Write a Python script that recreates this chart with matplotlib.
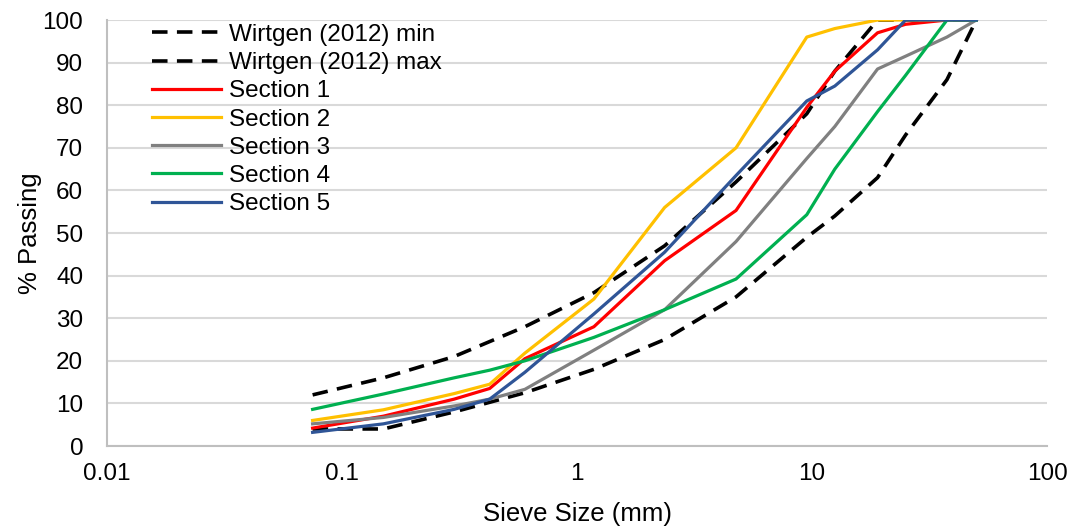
import matplotlib
matplotlib.use("Agg")
import matplotlib.pyplot as plt
import numpy as np

plt.rcParams['font.family'] = ['Liberation Sans', 'DejaVu Sans']

# Sieve sizes (mm)
sieves = [0.075, 0.15, 0.3, 0.425, 0.6, 1.18, 2.36, 4.75, 9.5, 12.5, 19, 25, 37.5, 50]
env_sieves = [0.075, 0.15, 0.3, 0.6, 1.18, 2.36, 4.75, 9.5, 12.5, 19, 25, 37.5, 50]

# Grading envelope (% passing)
wirtgen_min = [12, 16, 21, 28, 36, 47, 62, 78, 88, 100, 100, 100, 100]
wirtgen_max = [4, 4, 8, 12.5, 18, 25, 35, 49, 54, 63, 73, 86, 100]

# Measured gradations (% passing)
section1 = [4.2, 7, 11, 13.5, 20.5, 28, 43.5, 55.3, 79.5, 88, 97, 99, 100, 100]
section2 = [6, 8.5, 12.3, 14.5, 21.8, 34.5, 56, 70, 96, 98, 100, 100, 100, 100]
section3 = [5.2, 6.7, 9.4, 11, 13.3, 22.5, 32, 48, 67.5, 75, 88.5, 91.5, 96, 100]
section4 = [8.6, 12.2, 16, 17.8, 20, 25.5, 32, 39.2, 54.3, 65, 78.5, 87, 100, 100]
section5 = [3.2, 5.2, 8.6, 11, 17.3, 31, 45.5, 63.5, 81, 84.5, 93, 100, 100, 100]

x_ticks = [0.01, 0.1, 1, 10, 100]
x_tick_labels = ["0.01", "0.1", "1", "10", "100"]
y_ticks = list(range(0, 101, 10))

fig = plt.figure(figsize=(10.75, 5.27), dpi=100)
ax = fig.add_axes([0.0995, 0.1537, 0.8745, 0.8083])

dash = dict(color='black', lw=2.6, linestyle=(0, (4.3, 2.6)))
ax.plot(env_sieves, wirtgen_min, label='Wirtgen (2012) min', **dash)
ax.plot(env_sieves, wirtgen_max, label='Wirtgen (2012) max', **dash)

lw = 2.3
ax.plot(sieves, section1, color='#FF0000', lw=lw, label='Section 1')
ax.plot(sieves, section2, color='#FFC000', lw=lw, label='Section 2')
ax.plot(sieves, section3, color='#808080', lw=lw, label='Section 3')
ax.plot(sieves, section4, color='#00B050', lw=lw, label='Section 4')
ax.plot(sieves, section5, color='#2F5597', lw=lw, label='Section 5')

ax.set_xscale('log')
ax.set_xlim(0.01, 100)
ax.set_ylim(0, 100)
ax.set_xticks(x_ticks)
ax.set_xticklabels(x_tick_labels)
ax.set_yticks(y_ticks)
ax.xaxis.set_minor_locator(matplotlib.ticker.NullLocator())
ax.tick_params(axis='both', length=0, labelsize=17.5, colors='black')
ax.tick_params(axis='y', pad=17)
ax.tick_params(axis='x', pad=12)

ax.grid(axis='y', color='#D9D9D9', lw=1.5)
ax.set_axisbelow(True)
for s in ['top', 'right']:
    ax.spines[s].set_visible(False)
for s in ['left', 'bottom']:
    ax.spines[s].set_color('#BFBFBF')
    ax.spines[s].set_linewidth(1.5)

ax.set_xlabel('Sieve Size (mm)', fontsize=18.5, labelpad=12.5)
ax.set_ylabel('% Passing', fontsize=18.5, labelpad=0.5)

ax.legend(loc='upper left', bbox_to_anchor=(0.048, 0.991), frameon=False,
          fontsize=17.5, handlelength=2.85, handletextpad=0.33, labelspacing=0.255,
          borderpad=0, borderaxespad=0)

fig.savefig('out.png', dpi=100)
